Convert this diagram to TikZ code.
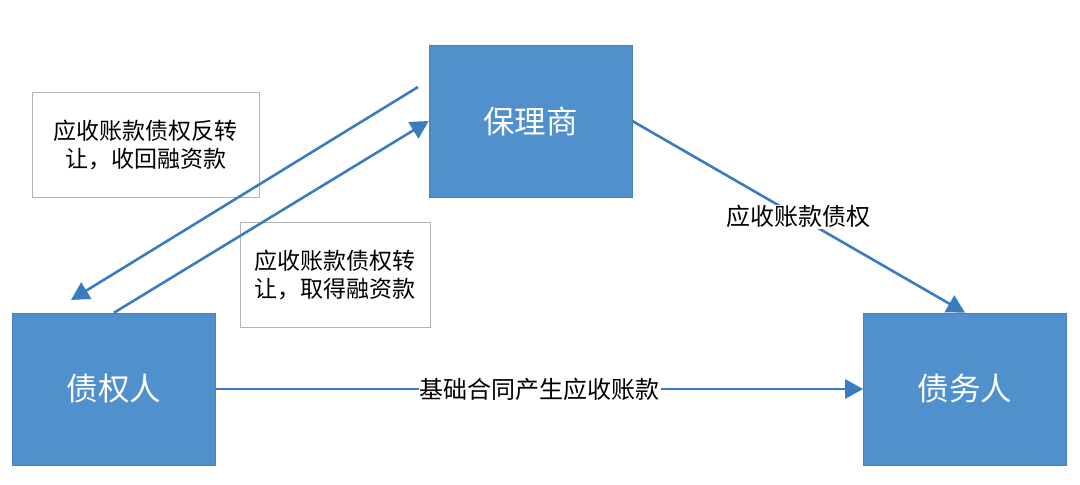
\documentclass[tikz,border=0pt]{standalone}
\usepackage{fontspec}
\setmainfont{Noto Sans CJK SC}
\usetikzlibrary{arrows.meta}
\definecolor{boxblue}{HTML}{4F90CD}
\definecolor{arrblue}{HTML}{3A7DBF}
\definecolor{framegray}{HTML}{B4B4B4}
\tikzset{
  bluebox/.style={draw=boxblue!90!black, line width=0.6pt, fill=boxblue, text=white,
    minimum width=203pt, minimum height=152pt, inner sep=0pt,
    font=\fontsize{31.5}{36}\selectfont},
  notebox/.style={draw=framegray, line width=0.8pt, fill=white, align=center,
    inner sep=0pt, font=\fontsize{23}{28}\selectfont},
  flow/.style={draw=arrblue, line width=2.6pt, -{Triangle[length=18pt,width=19pt]}},
  lbl/.style={fill=white, inner sep=1pt, font=\fontsize{24}{28}\selectfont}
}
\begin{document}
\begin{tikzpicture}[x=1pt,y=-1pt]
\useasboundingbox[fill=white] (0,0) rectangle (1080,485);
% text boxes
\node[notebox, minimum width=227pt, minimum height=105pt] (n1) at (145.5,144.5) {应收账款债权反转\\让，收回融资款};
\node[notebox, minimum width=190pt, minimum height=105pt] (n2) at (335,274.5) {应收账款债权转\\让，取得融资款};
% main boxes
\node[bluebox] (blr) at (530.5,121) {保理商};
\node[bluebox] (zqr) at (114,389) {债权人};
\node[bluebox] (zwr) at (965,389) {债务人};
% free ends of return arrow
\coordinate (r1) at (418,87);
\coordinate (r2) at (71,300);
% connectors
\draw[flow] (r1) -- (r2);
\draw[flow] (zqr.north) -- (blr.west);
\draw[flow] (blr.east) -- node[lbl] (l1) {应收账款债权} (zwr.north);
\draw[flow] (zqr.east) -- node[lbl] (l2) {基础合同产生应收账款} (zwr.west);
\end{tikzpicture}
\end{document}
